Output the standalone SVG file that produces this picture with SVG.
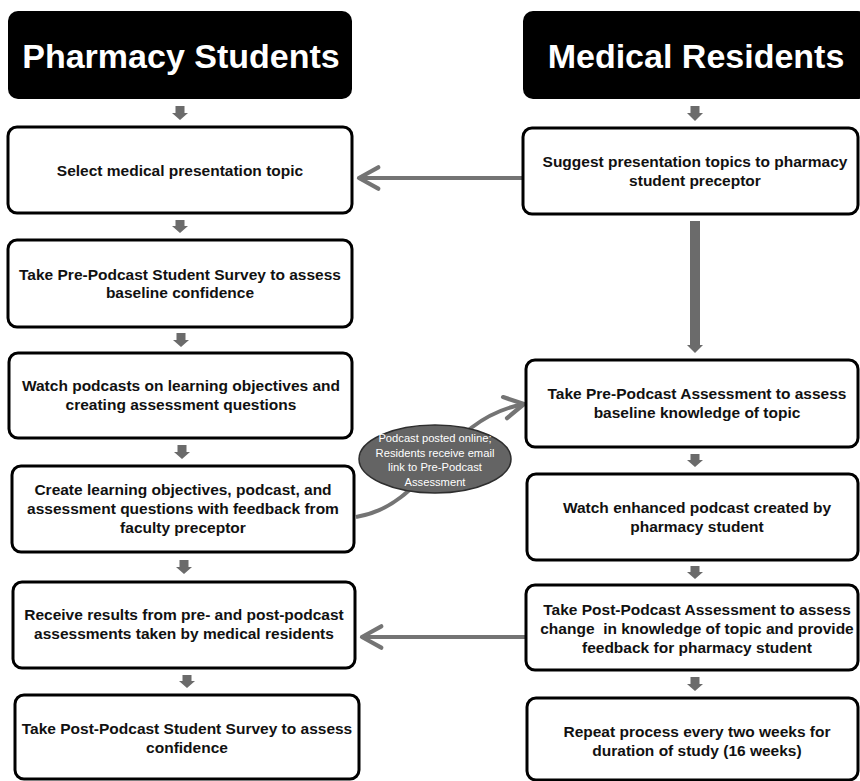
<svg xmlns="http://www.w3.org/2000/svg" width="860" height="781" viewBox="0 0 860 781">
<defs>
<style>
.hdr{fill:#000;stroke:none}
.hdrt{font-family:"Liberation Sans",Arial,sans-serif;font-weight:bold;font-size:34px;fill:#fff;text-anchor:middle}
.box{fill:#fff;stroke:#000;stroke-width:3}
.t{font-family:"Liberation Sans",Arial,sans-serif;font-weight:bold;font-size:15.5px;fill:#111;text-anchor:middle}
.ell{fill:#646464;stroke:#2e2e2e;stroke-width:1.5}
.et{font-family:"Liberation Sans",Arial,sans-serif;font-size:11.2px;fill:#fff;text-anchor:middle}
.blk{fill:#6b6b6b;stroke:none}
.con{fill:none;stroke:#747474;stroke-width:4}
</style>
<marker id="chev" markerUnits="userSpaceOnUse" markerWidth="30" markerHeight="30" viewBox="-22 -14 26 28" refX="0" refY="0" orient="auto">
<path d="M-18,-10 L0,0 L-18,10" fill="none" stroke="#747474" stroke-width="4" stroke-linecap="round" stroke-linejoin="round"/>
</marker>
</defs>

<g id="connectors">
<polygon class="blk" points="175.5,106 184.5,106 184.5,113 188,113 180,120 172,113 175.5,113"/>
<polygon class="blk" points="175.5,220 184.5,220 184.5,226 188,226 180,233 172,226 175.5,226"/>
<polygon class="blk" points="176.5,333 185.5,333 185.5,340 189,340 181,347 173,340 176.5,340"/>
<polygon class="blk" points="177.5,445 186.5,445 186.5,452 190,452 182,459 174,452 177.5,452"/>
<polygon class="blk" points="179.5,560 188.5,560 188.5,567 192,567 184,574 176,567 179.5,567"/>
<polygon class="blk" points="182.5,675 191.5,675 191.5,681 195,681 187,688 179,681 182.5,681"/>
<polygon class="blk" points="690.5,106 699.5,106 699.5,113 703,113 695,121 687,113 690.5,113"/>
<polygon class="blk" points="690,221 700,221 700,345 703,345 695,353 687,345 690,345"/>
<polygon class="blk" points="690.5,454 699.5,454 699.5,460 703,460 695,467 687,460 690.5,460"/>
<polygon class="blk" points="690.5,566 699.5,566 699.5,572 703,572 695,579 687,572 690.5,572"/>
<polygon class="blk" points="690.5,677 699.5,677 699.5,684 703,684 695,691 687,684 690.5,684"/>
<line class="con" x1="523" y1="178" x2="359" y2="178" marker-end="url(#chev)"/>
<line class="con" x1="526" y1="637" x2="362" y2="637" marker-end="url(#chev)"/>
<path class="con" d="M356,517 C430,505 440,420 524,404" marker-end="url(#chev)"/>
</g>

<g id="hdr-pharmacy">
<rect class="hdr" x="8" y="11" width="344" height="88" rx="10"/>
<text class="hdrt" x="181" y="68">Pharmacy Students</text>
</g>
<g id="hdr-residents">
<rect class="hdr" x="523" y="11" width="345" height="88" rx="10"/>
<text class="hdrt" x="696" y="68">Medical Residents</text>
</g>

<g id="p1">
<rect class="box" x="8" y="127" width="344" height="86" rx="9"/>
<text class="t" x="180" y="176">Select medical presentation topic</text>
</g>
<g id="p2">
<rect class="box" x="8" y="240" width="344" height="87" rx="9"/>
<text class="t" x="180" y="280">Take Pre-Podcast Student Survey to assess</text>
<text class="t" x="180" y="298">baseline confidence</text>
</g>
<g id="p3">
<rect class="box" x="9" y="353" width="343" height="85" rx="9"/>
<text class="t" x="181" y="391">Watch podcasts on learning objectives and</text>
<text class="t" x="181" y="410">creating assessment questions</text>
</g>
<g id="p4">
<rect class="box" x="12" y="466" width="342" height="86" rx="9"/>
<text class="t" x="183" y="495">Create learning objectives, podcast, and</text>
<text class="t" x="183" y="514">assessment questions with feedback from</text>
<text class="t" x="183" y="533">faculty preceptor</text>
</g>
<g id="p5">
<rect class="box" x="13" y="582" width="342" height="86" rx="9"/>
<text class="t" x="184" y="620">Receive results from pre- and post-podcast</text>
<text class="t" x="184" y="639">assessments taken by medical residents</text>
</g>
<g id="p6">
<rect class="box" x="15" y="695" width="344" height="84" rx="9"/>
<text class="t" x="187" y="734">Take Post-Podcast Student Survey to assess</text>
<text class="t" x="187" y="753">confidence</text>
</g>

<g id="r1">
<rect class="box" x="523" y="128" width="335" height="86" rx="9"/>
<text class="t" x="695" y="167">Suggest presentation topics to pharmacy</text>
<text class="t" x="695" y="186">student preceptor</text>
</g>
<g id="r2">
<rect class="box" x="526" y="360" width="332" height="87" rx="9"/>
<text class="t" x="697" y="399">Take Pre-Podcast Assessment to assess</text>
<text class="t" x="697" y="418">baseline knowledge of topic</text>
</g>
<g id="r3">
<rect class="box" x="527" y="474" width="331" height="86" rx="9"/>
<text class="t" x="697" y="513">Watch enhanced podcast created by</text>
<text class="t" x="697" y="532">pharmacy student</text>
</g>
<g id="r4">
<rect class="box" x="526" y="585" width="332" height="85" rx="9"/>
<text class="t" x="697" y="615">Take Post-Podcast Assessment to assess</text>
<text class="t" x="697" y="634" xml:space="preserve">change  in knowledge of topic and provide</text>
<text class="t" x="697" y="653">feedback for pharmacy student</text>
</g>
<g id="r5">
<rect class="box" x="527" y="698" width="331" height="82" rx="9"/>
<text class="t" x="697" y="737">Repeat process every two weeks for</text>
<text class="t" x="697" y="756">duration of study (16 weeks)</text>
</g>

<g id="bubble">
<ellipse class="ell" cx="435" cy="459" rx="76" ry="34"/>
<text class="et" x="435" y="442">Podcast posted online;</text>
<text class="et" x="435" y="456.5">Residents receive email</text>
<text class="et" x="435" y="471">link to Pre-Podcast</text>
<text class="et" x="435" y="485.5">Assessment</text>
</g>
</svg>
